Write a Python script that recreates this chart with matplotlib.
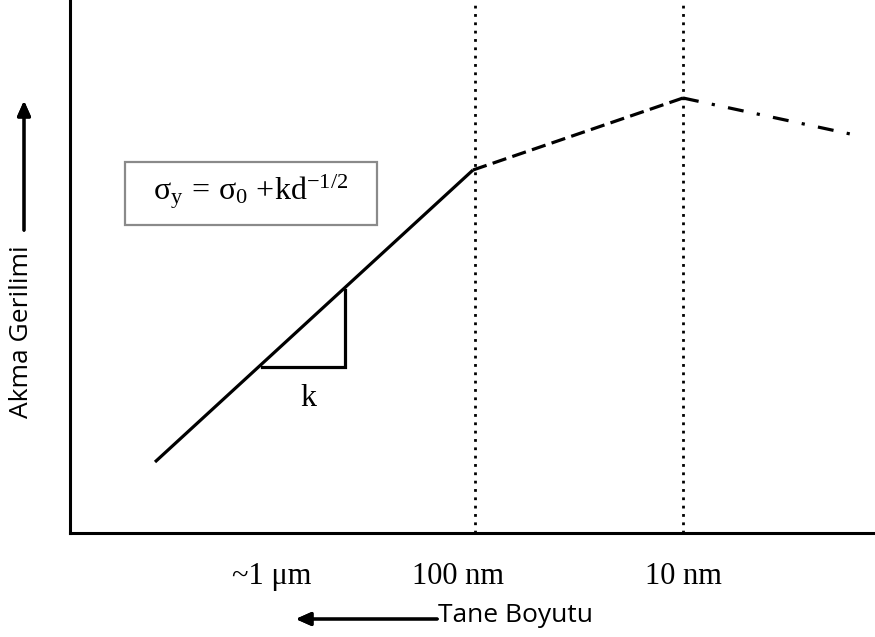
import matplotlib
matplotlib.use("Agg")
import matplotlib.pyplot as plt
from matplotlib.patches import Rectangle

plt.rcParams["mathtext.fontset"] = "custom"
plt.rcParams["mathtext.rm"] = "Liberation Serif"
plt.rcParams["mathtext.it"] = "Liberation Serif"

# schematic Hall-Petch curve (x: position toward smaller grain, y: yield stress)
solid_x = [85, 403]
solid_y = [71, 363]
dashed_x = [403, 613]
dashed_y = [363, 435]
dashdot_x = [613, 785]
dashdot_y = [435, 398]
boundary_x = [405, 613]
tri_x = [192, 275, 275]
tri_y = [166, 166, 243]
tick_pos = [202, 388, 613]
tick_labels = ["~1 \u03bcm", "100 nm", "10 nm"]

fig = plt.figure(figsize=(8.75, 6.37), dpi=100)
ax = fig.add_axes([70 / 875, 104 / 637, 805 / 875, 533 / 637])
ax.set_xlim(0, 805)
ax.set_ylim(0, 533)

for s in ["top", "right"]:
    ax.spines[s].set_visible(False)
ax.spines["left"].set_linewidth(2.2)
ax.spines["bottom"].set_linewidth(2.2)
ax.set_yticks([])
ax.set_xticks(tick_pos)
ax.set_xticklabels(tick_labels, fontfamily="Liberation Serif", fontsize=22)
ax.tick_params(axis="x", length=0, pad=21)

for bx in boundary_x:
    ax.plot([bx, bx], [0, 533], color="black", lw=2, ls=(0, (1, 2)), clip_on=False)

ax.plot(solid_x, solid_y, color="black", lw=2.3, solid_capstyle="butt")
ax.plot(dashed_x, dashed_y, color="black", lw=2.3, ls=(0, (4.5, 2)))
ax.plot(dashdot_x, dashdot_y, color="black", lw=2.3, ls=(0, (5, 4.2, 1, 4.2)))

ax.plot(tri_x, tri_y, color="black", lw=2.3, solid_joinstyle="miter")
ax.text(238, 135, "k", fontfamily="Liberation Serif", fontsize=23, ha="center", va="center")

ax.add_patch(Rectangle((55, 308), 252, 63, facecolor="white", edgecolor="#8a8a8a", lw=1.6))
ax.text(181, 341, r"$\sigma_y\,=\,\sigma_0\ {+}\mathrm{kd}^{-1/2}$", fontsize=23,
        ha="center", va="center")

# axis captions with arrows
fig.text(438 / 875, 1 - 615 / 637, "Tane Boyutu", fontfamily="Open Sans", fontsize=19,
         ha="left", va="center")
fig.add_artist(plt.annotate("", xy=(293 / 875, 1 - 619 / 637), xytext=(440 / 875, 1 - 619 / 637),
                            xycoords="figure fraction",
                            arrowprops=dict(arrowstyle="-|>,head_length=0.9,head_width=0.4",
                                            color="black", lw=2.2)))
fig.text(22 / 875, 1 - 332 / 637, "Akma Gerilimi", fontfamily="Open Sans", fontsize=19,
         rotation=90, ha="center", va="center")
fig.add_artist(plt.annotate("", xy=(24 / 875, 1 - 98 / 637), xytext=(24 / 875, 1 - 233 / 637),
                            xycoords="figure fraction",
                            arrowprops=dict(arrowstyle="-|>,head_length=0.9,head_width=0.4",
                                            color="black", lw=2.2)))

fig.savefig("out.png", dpi=100)
